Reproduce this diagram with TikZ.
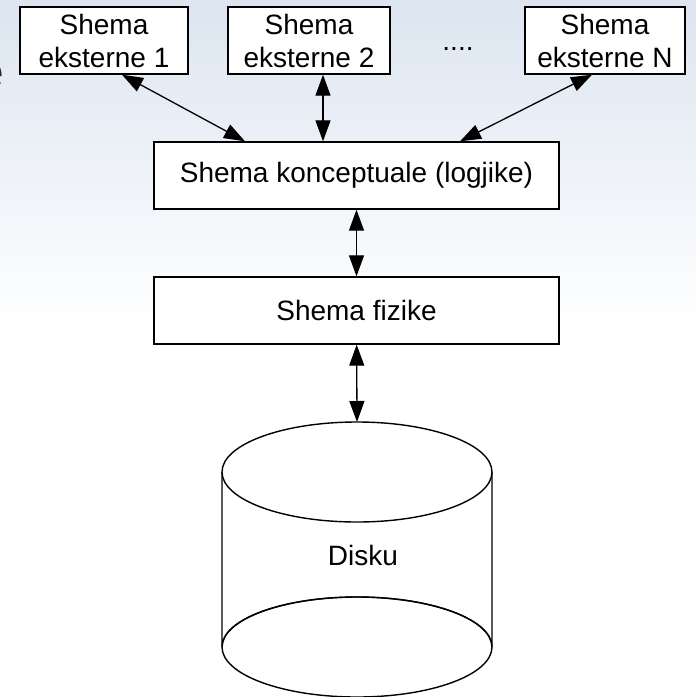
\documentclass[tikz,border=0pt]{standalone}
\usepackage{fontspec}
\setmainfont{Liberation Sans}
\usepackage{xcolor}
\usetikzlibrary{arrows.meta,positioning}

\definecolor{bgblue}{RGB}{220,229,240}

\begin{document}
\begin{tikzpicture}[
        x=1pt, y=-1pt,
        font=\fontsize{28}{33}\selectfont,
        schema/.style={rectangle, draw, line width=1.4pt, fill=white, minimum height=67pt, inner sep=0pt, align=center},
        level/.style={rectangle, draw, line width=1.4pt, fill=white, minimum width=405pt, minimum height=67pt, inner sep=0pt, align=center},
        link/.style={line width=1.3pt, {Triangle[length=21pt,width=15pt]}-{Triangle[length=21pt,width=15pt]}},
        outline/.style={line width=1.4pt}
    ]
        % Background
        \useasboundingbox (0,0) rectangle (696,697);
        \fill[white] (0,0) rectangle (696,697);
        \shade[top color=bgblue, bottom color=white] (0,0) rectangle (696,330);
        \node[font=\fontsize{48}{52}\selectfont, text=black!85, inner sep=0pt, anchor=base east] (titletail) at (4.5,88) {e};

        % External schemas
        \node[schema, minimum width=168pt] (ext1) at (104,40.5) {Shema\\eksterne 1};
        \node[schema, minimum width=162pt] (ext2) at (309,40.5) {Shema\\eksterne 2};
        \node[schema, minimum width=160pt] (extN) at (605,40.5) {Shema\\eksterne N};
        \node[anchor=base, inner sep=0pt] (dots) at (458,50) {....};

        % Conceptual and physical schema
        \node[level] (concept) at (356.5,175.5) {Shema konceptuale (logjike)};
        \node[level] (physical) at (356.5,310.5) {Shema fizike};

        % Disk
        \draw[outline, fill=white] (222,472) -- (222,647) arc (180:360:135 and 50) -- (492,472);
        \draw[outline] (357,647) ellipse (135 and 50);
        \draw[outline, fill=white] (357,472) ellipse (135 and 50);
        \coordinate (disktop) at (357,422);
        \node (disk) at (363,555) {Disku};

        % Connections
        \draw[link] ([xshift=18pt]ext1.south) -- ([xshift=-111.5pt]concept.north);
        \draw[link] ([xshift=14pt]ext2.south) -- ([xshift=-33.5pt]concept.north);
        \draw[link] ([xshift=-13pt]extN.south) -- ([xshift=103.5pt]concept.north);
        \draw[link] (concept) -- (physical);
        \draw[link] (physical) -- (disktop);
    \end{tikzpicture}
\end{document}
